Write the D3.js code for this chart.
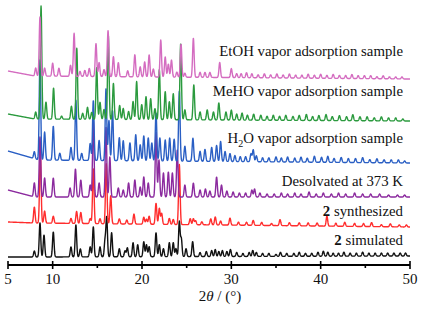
<!DOCTYPE html>
<html>
<head>
<meta charset="utf-8">
<script src="https://cdnjs.cloudflare.com/ajax/libs/d3/7.8.5/d3.min.js"></script>
<style>
body { margin: 0; background: #fff; }
text { font-family: "Liberation Serif", "Times New Roman", serif; }
</style>
</head>
<body>
<div id="graph"></div>
<script>
// x axis ticks
var xTicks = [5, 10, 15, 20, 25, 30, 35, 40, 45, 50];
var xTickLabels = ["5", "10", "", "20", "", "30", "", "40", "", "50"];

// series, bottom to top
var names = ["2 simulated", "2 synthesized", "Desolvated at 373 K",
    "H2O vapor adsorption sample", "MeHO vapor adsorption sample", "EtOH vapor adsorption sample"];
var colors = ["#111111", "#ff2d2d", "#8b2a9e", "#2a5fc4", "#2b9a3e", "#d46cc0"];
var offsets = [8, 42, 68, 105, 147, 190];

// background level (2theta, shift) per series
var bgSimulated = [[5, 0], [8, 0], [50, 1]];
var bgSynthesized = [[5, 1], [8, 0], [50, -4]];
var bgDesolvated = [[5, 7], [8, 0], [50, 0]];
var bgWater = [[5, 9], [8.5, 0], [50, -3]];
var bgMeho = [[5, 4], [8, -1], [50, -3]];
var bgEtoh = [[5, 4], [8, -1], [50, -4]];

// peaks: [2theta, height]
var pkSimulated = [[7.95, 6], [8.58, 34], [9.03, 22], [10.07, 25], [12.05, 10], [12.6, 32], [13.1, 8],
    [14.2, 10], [14.55, 30], [15.3, 10], [15.86, 16], [16.05, 39], [16.6, 24], [17.46, 8], [18.1, 6],
    [18.36, 9], [19.0, 14], [19.52, 12], [20.2, 15], [20.5, 12], [20.8, 10], [21.57, 24], [21.94, 12],
    [22.4, 8], [23.06, 14], [23.5, 14], [23.8, 8], [24.18, 35], [24.4, 18], [24.93, 8], [25.67, 15],
    [26.5, 4], [27.2, 5], [27.8, 6], [28.2, 7], [28.6, 5], [29.0, 6], [29.5, 5], [29.9, 7], [30.6, 4],
    [31.3, 3], [32.0, 4], [32.4, 6], [32.8, 4], [33.5, 3], [34.2, 3], [35.0, 2], [35.5, 4], [36.2, 3],
    [37.0, 3], [37.6, 4], [38.3, 3], [39.0, 3], [39.7, 4], [40.3, 5], [40.8, 4], [41.4, 3], [42.0, 3],
    [42.6, 4], [43.3, 3], [44.0, 3], [44.7, 4], [45.4, 3], [46.1, 3], [46.8, 3], [47.5, 3], [48.2, 3],
    [48.9, 3], [49.5, 3]];
var pkSynthesized = [[7.95, 16], [8.62, 72], [9.1, 12], [10.07, 7], [12.05, 5], [12.68, 12], [13.15, 11],
    [14.2, 5], [14.55, 55], [15.3, 5], [16.0, 60], [16.5, 28], [17.46, 5], [18.3, 4], [19.1, 10],
    [20.2, 7], [20.5, 5], [20.8, 8], [21.57, 21], [21.94, 16], [22.2, 11], [23.06, 6], [23.5, 5],
    [24.18, 60], [25.4, 6], [25.75, 6], [26.0, 4], [26.7, 3], [27.7, 6], [28.2, 8], [28.8, 4],
    [29.85, 7], [30.8, 3], [31.7, 3], [32.45, 5], [33.4, 3], [34.5, 2], [35.45, 6], [36.5, 3],
    [37.6, 3], [38.6, 3], [39.6, 3], [40.7, 10], [41.7, 3], [42.7, 4], [43.8, 3], [44.8, 3],
    [45.7, 4], [46.8, 2], [47.8, 3], [48.8, 2], [49.6, 2]];
var pkDesolvated = [[7.95, 14], [8.58, 60], [9.1, 19], [10.07, 19], [11.95, 9], [12.55, 28], [13.15, 17],
    [14.2, 12], [14.55, 77], [15.2, 14], [15.97, 70], [16.4, 40], [17.35, 9], [17.9, 7], [18.5, 14],
    [19.2, 17], [19.8, 10], [20.2, 20], [20.7, 14], [21.57, 65], [21.9, 37], [22.4, 24], [22.95, 25],
    [23.4, 24], [23.95, 47], [24.8, 12], [25.75, 14], [26.5, 7], [27.1, 8], [27.6, 6], [28.35, 20],
    [28.9, 12], [29.5, 6], [30.2, 5], [30.9, 4], [31.6, 4], [32.3, 7], [32.6, 8], [33.2, 4], [34.0, 3],
    [34.8, 3], [35.6, 4], [36.3, 3], [37.1, 4], [37.8, 3], [38.7, 5], [39.5, 3], [40.3, 4], [41.2, 3],
    [42.0, 4], [42.8, 3], [43.8, 4], [44.7, 3], [45.6, 3], [46.6, 3], [47.6, 2], [48.6, 2], [49.4, 2]];
var pkWater = [[7.95, 7], [8.58, 100], [9.1, 28], [10.07, 34], [10.8, 7], [12.05, 13], [12.6, 60],
    [13.25, 7], [14.2, 17], [14.55, 60], [15.2, 20], [15.97, 72], [16.3, 40], [16.7, 50], [17.46, 23],
    [17.9, 20], [18.65, 18], [19.3, 26], [19.8, 16], [20.2, 25], [20.7, 23], [21.1, 18], [21.57, 48],
    [22.0, 23], [22.6, 21], [23.1, 23], [23.6, 22], [24.18, 70], [24.8, 15], [25.7, 23], [26.5, 10],
    [27.05, 12], [27.8, 14], [28.35, 16], [28.8, 20], [29.3, 10], [29.85, 8], [30.4, 6], [31.0, 5],
    [31.6, 5], [32.2, 8], [32.45, 12], [32.8, 6], [33.5, 4], [34.2, 4], [35.0, 5], [35.6, 4], [36.3, 5],
    [37.1, 4], [37.8, 5], [38.5, 4], [39.3, 6], [40.1, 5], [40.8, 6], [41.5, 4], [42.3, 5], [43.1, 4],
    [43.9, 4], [44.7, 5], [45.5, 3], [46.3, 4], [47.1, 3], [47.9, 3], [48.7, 3], [49.4, 2]];
var pkMeho = [[8.1, 7], [8.7, 113], [9.25, 17], [10.1, 31], [11.0, 3], [12.1, 13], [12.7, 71], [13.36, 6],
    [13.9, 12], [14.37, 7], [14.93, 52], [15.3, 17], [15.75, 10], [16.23, 84], [16.8, 36], [17.5, 14],
    [17.9, 11], [18.5, 8], [19.0, 18], [19.4, 38], [19.97, 15], [20.45, 23], [20.97, 21], [21.45, 11],
    [21.94, 50], [22.6, 28], [23.06, 18], [23.5, 26], [24.33, 76], [24.8, 10], [25.8, 35], [26.5, 8],
    [27.3, 10], [28.0, 8], [28.6, 17], [29.4, 8], [30.0, 10], [30.6, 6], [31.2, 7], [31.8, 5], [32.5, 6],
    [33.3, 5], [34.0, 4], [34.7, 5], [35.4, 4], [36.1, 5], [36.9, 4], [37.6, 5], [38.4, 6], [39.1, 4],
    [39.8, 5], [40.6, 6], [41.3, 4], [42.1, 5], [42.9, 4], [43.6, 6], [44.4, 4], [45.2, 4], [46.0, 3],
    [46.8, 4], [47.6, 3], [48.4, 3], [49.2, 2]];
var pkEtoh = [[8.1, 8], [8.58, 59], [9.1, 8], [10.0, 13], [10.7, 8], [12.0, 11], [12.4, 43], [13.06, 5],
    [13.6, 6], [14.1, 8], [14.85, 33], [15.2, 14], [15.75, 7], [16.2, 46], [16.8, 20], [17.35, 14],
    [18.4, 6], [19.2, 22], [19.8, 10], [20.3, 15], [20.8, 22], [21.27, 8], [22.1, 37], [22.6, 20],
    [22.95, 13], [23.3, 17], [23.9, 5], [24.37, 33], [24.8, 4], [25.75, 39], [26.5, 5], [27.05, 5],
    [27.6, 5], [28.7, 15], [30.0, 9], [30.6, 4], [31.1, 4], [31.7, 5], [32.3, 4], [33.0, 3], [33.7, 4],
    [34.4, 3], [35.1, 4], [35.8, 3], [36.5, 4], [37.2, 3], [37.9, 3], [38.6, 4], [39.3, 3], [40.0, 4],
    [40.7, 3], [41.4, 4], [42.1, 3], [42.8, 3], [43.5, 4], [44.2, 3], [44.9, 3], [45.6, 3], [46.3, 2],
    [47.0, 3], [47.7, 2], [48.4, 2], [49.1, 2]];

var backgrounds = [bgSimulated, bgSynthesized, bgDesolvated, bgWater, bgMeho, bgEtoh];
var peakSets = [pkSimulated, pkSynthesized, pkDesolvated, pkWater, pkMeho, pkEtoh];

var w = 422;
var h = 310;
var peakWidth = 0.085;

var svg = d3.select("#graph")
    .append("svg")
    .attr("width", w)
    .attr("height", h);

var x = d3.scaleLinear().domain([5, 50]).range([8, 410]);
var y = d3.scaleLinear().domain([0, 260]).range([265, 5]);

// turn a peak list into a profile
function profile(peaks, bg, off) {
    var bgLevel = d3.scaleLinear()
        .domain(bg.map(function (d) { return d[0]; }))
        .range(bg.map(function (d) { return d[1]; }));
    var pts = [];
    for (var t = 5; t <= 50.0001; t += 0.02) {
        var v = off + bgLevel(t);
        peaks.forEach(function (p) {
            var dt = t - p[0];
            if (Math.abs(dt) < 0.6) v += p[1] * Math.exp(-dt * dt / (2 * peakWidth * peakWidth));
        });
        pts.push([t, v]);
    }
    return pts;
}

var line = d3.line()
    .x(function (d) { return x(d[0]); })
    .y(function (d) { return y(d[1]); });

peakSets.forEach(function (peaks, i) {
    svg.append("path")
        .datum(profile(peaks, backgrounds[i], offsets[i]))
        .attr("fill", "none")
        .attr("stroke", colors[i])
        .attr("stroke-width", 1.4)
        .attr("stroke-linejoin", "round")
        .attr("d", line);
});

// series labels
var labelY = [245, 216, 186, 143, 96, 56];
var labels = svg.selectAll(".lbl")
    .data(names)
    .enter()
    .append("text")
    .attr("class", "lbl")
    .attr("x", 403)
    .attr("y", function (d, i) { return labelY[i]; })
    .attr("text-anchor", "end")
    .attr("font-size", 14.8)
    .attr("fill", "#111");

labels.each(function (d) {
    var t = d3.select(this);
    if (d.indexOf("2 ") === 0) {
        t.append("tspan").attr("font-weight", "bold").text("2");
        t.append("tspan").text(d.slice(1));
    } else if (d.indexOf("H2O") === 0) {
        t.append("tspan").text("H");
        t.append("tspan").attr("font-size", 10).attr("dy", 4).text("2");
        t.append("tspan").attr("dy", -4).text(d.slice(2));
    } else {
        t.text(d);
    }
});

// x axis
var axis = svg.append("g");
axis.append("line")
    .attr("x1", x(5)).attr("x2", x(50))
    .attr("y1", 265).attr("y2", 265)
    .attr("stroke", "#000").attr("stroke-width", 2);

axis.selectAll(".tick")
    .data(xTicks)
    .enter()
    .append("line")
    .attr("x1", function (d) { return x(d); })
    .attr("x2", function (d) { return x(d); })
    .attr("y1", function (d, i) { return xTickLabels[i] ? 261 : 265; })
    .attr("y2", function (d, i) { return xTickLabels[i] ? 269 : 268; })
    .attr("stroke", "#000")
    .attr("stroke-width", 1.6);

axis.selectAll(".tl")
    .data(xTicks)
    .enter()
    .append("text")
    .attr("x", function (d) { return x(d); })
    .attr("y", 284)
    .attr("text-anchor", "middle")
    .attr("font-size", 15)
    .attr("fill", "#111")
    .text(function (d, i) { return xTickLabels[i]; });

var title = svg.append("text")
    .attr("x", 220)
    .attr("y", 301)
    .attr("text-anchor", "middle")
    .attr("font-size", 15)
    .attr("fill", "#111");
title.append("tspan").text("2");
title.append("tspan").attr("font-style", "italic").text("θ");
title.append("tspan").text(" / (°)");
</script>
</body>
</html>
